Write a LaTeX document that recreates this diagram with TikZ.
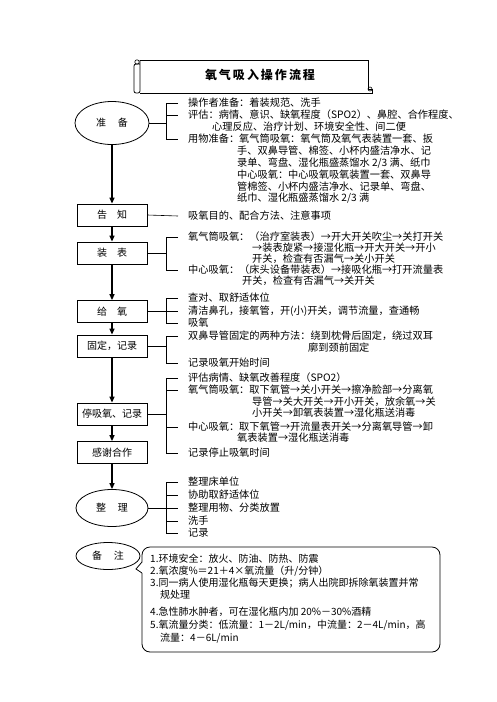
\documentclass[tikz,border=0pt]{standalone}
\usepackage{fontspec}
\setmainfont{Noto Sans CJK SC}
\usetikzlibrary{arrows.meta,shapes.geometric}
\begin{document}
\begin{tikzpicture}[x=1pt,y=-1pt,
  box/.style={draw,line width=0.8pt,minimum width=70pt,minimum height=22pt,inner sep=0pt,font=\fontsize{10}{12}\selectfont},
  oval/.style={draw,ellipse,line width=0.8pt,inner sep=0pt,font=\fontsize{10}{12}\selectfont},
  txt/.style={anchor=west,inner sep=0pt,font=\fontsize{10.2}{12}\selectfont},
  arr/.style={-{Triangle[length=6pt,width=5pt]},line width=1.4pt},
  brk/.style={line width=0.6pt}]
\useasboundingbox (0,0) rectangle (496,702);
\fill[white] (0,0) rectangle (496,702);
\coordinate (sp) at (166,0);
% title scroll
\draw[line width=0.8pt] (140,60) -- (368,60) -- (368,89) -- (372,89) -- (372,93) -- (140,93);
\draw[line width=0.8pt,rounded corners=2pt] (140,64) -- (134,64) -- (134,93) -- (140,93) -- (140,60);
\draw[line width=0.6pt] (137,62) circle (2.2);
\draw[line width=0.6pt] (370,89) circle (2);
\node[font=\bfseries\fontsize{12}{14}\selectfont] (title) at (260,75) {氧\kern2pt 气\kern2pt 吸\kern2pt 入\kern2pt 操\kern2pt 作\kern2pt 流\kern2pt 程};
% main column
\node[oval,minimum width=74pt,minimum height=43pt] (zb) at (112,123) {准\hspace{1.2em}备};
\node[box] (gz) at (112,215) {告\hspace{1em}知};
\node[box] (zbx) at (112,253) {装\hspace{1em}表};
\node[box] (gy) at (112,311.5) {给\hspace{1em}氧};
\node[box] (gd) at (112,346) {固定，记录};
\node[box] (tx) at (112,414) {停吸氧、记录};
\node[box] (gx) at (112,452.5) {感谢合作};
\node[oval,minimum width=72pt,minimum height=37pt] (zl) at (112,508) {整\hspace{1.2em}理};
\node[oval,minimum width=64pt,minimum height=27pt] (bz) at (108,556) {备\hspace{1.2em}注};
\draw[arr] (zb.south) -- (gz.north);
\draw[arr] (gz.south) -- (zbx.north);
\draw[arr] (zbx.south) -- (gy.north);
\draw[arr] (gy.south) -- (gd.north);
\draw[arr] (gd.south) -- (tx.north);
\draw[arr] (tx.south) -- (gx.north);
\draw[arr] (gx.south) -- (zl.north);
% texts: prepare
\node[txt] (p1) at (188,103) {操作者准备：着装规范、洗手};
\node[txt] (p2) at (188,115) {评估：病情、意识、缺氧程度（SPO2）、鼻腔、合作程度、};
\node[txt] (p3) at (212,127) {心理反应、治疗计划、环境安全性、间二便};
\node[txt] (p4) at (188,139) {用物准备：氧气筒吸氧：氧气筒及氧气表装置一套、扳};
\node[txt] (p5) at (237,151) {手、双鼻导管、棉签、小杯内盛洁净水、记};
\node[txt] (p6) at (237,163) {录单、弯盘、湿化瓶盛蒸馏水 2/3 满、纸巾};
\node[txt] (p7) at (237,175) {中心吸氧：中心吸氧吸氧装置一套、双鼻导};
\node[txt] (p8) at (237,187) {管棉签、小杯内盛洁净水、记录单、弯盘、};
\node[txt] (p9) at (237,198) {纸巾、湿化瓶盛蒸馏水 2/3 满};
\draw[brk] (zb.east) -- (zb.east -| sp);
\draw[brk] ([xshift=-10pt]p1.west) -- (p1.west -| sp) -- (p4.west -| sp) -- ([xshift=-10pt]p4.west);
\draw[brk] (p2.west -| sp) -- ([xshift=-10pt]p2.west);
% inform
\node[txt] (t1) at (188,216) {吸氧目的、配合方法、注意事项};
\draw[brk] (gz.east) -- ([xshift=-10pt]t1.west);
% install
\node[txt] (q1) at (188,237) {氧气筒吸氧：（治疗室装表）→开大开关吹尘→关打开关};
\node[txt] (q2) at (252,248) {→装表旋紧→接湿化瓶→开大开关→开小};
\node[txt] (q3) at (252,259) {开关，检查有否漏气→关小开关};
\node[txt] (q4) at (188,270) {中心吸氧：（床头设备带装表）→接吸化瓶→打开流量表};
\node[txt] (q5) at (242,281) {开关，检查有否漏气→关开关};
\draw[brk] (zbx.east) -- (zbx.east -| sp);
\draw[brk] ([xshift=-10pt]q1.west) -- (q1.west -| sp) -- (q4.west -| sp) -- ([xshift=-10pt]q4.west);
% give oxygen
\node[txt] (r1) at (188,298) {查对、取舒适体位};
\node[txt] (r2) at (188,311.5) {清洁鼻孔，接氧管，开(小)开关，调节流量，查通畅};
\node[txt] (r3) at (188,323) {吸氧};
\draw[brk] (gy.east) -- ([xshift=-10pt]r2.west);
\draw[brk] ([xshift=-10pt]r1.west) -- (r1.west -| sp) -- (r3.west -| sp) -- ([xshift=-10pt]r3.west);
% fix, record
\node[txt] (s1) at (188,336) {双鼻导管固定的两种方法：绕到枕骨后固定，绕过双耳};
\node[txt] (s2) at (308,348) {廓到颈前固定};
\node[txt] (s3) at (188,363) {记录吸氧开始时间};
\draw[brk] (gd.east) -- (gd.east -| sp);
\draw[brk] ([xshift=-10pt]s1.west) -- (s1.west -| sp) -- (s3.west -| sp) -- ([xshift=-10pt]s3.west);
% stop
\node[txt] (u1) at (188,378) {评估病情、缺氧改善程度（SPO2）};
\node[txt] (u2) at (188,390) {氧气筒吸氧：取下氧管→关小开关→擦净脸部→分离氧};
\node[txt] (u3) at (252,402) {导管→关大开关→开小开关，放余氧→关};
\node[txt] (u4) at (252,413) {小开关→卸氧表装置→湿化瓶送消毒};
\node[txt] (u5) at (188,427) {中心吸氧：取下氧管→开流量表开关→分离氧导管→卸};
\node[txt] (u6) at (237,438) {氧表装置→湿化瓶送消毒};
\node[txt] (u7) at (188,453) {记录停止吸氧时间};
\draw[brk] (tx.east) -- (tx.east -| sp);
\draw[brk] ([xshift=-10pt]u1.west) -- (u1.west -| sp) -- (u7.west -| sp) -- ([xshift=-10pt]u7.west);
\draw[brk] (u2.west -| sp) -- ([xshift=-10pt]u2.west);
\draw[brk] (u5.west -| sp) -- ([xshift=-10pt]u5.west);
% tidy
\node[txt] (v1) at (188,482) {整理床单位};
\node[txt] (v2) at (188,495) {协助取舒适体位};
\node[txt] (v3) at (188,508) {整理用物、分类放置};
\node[txt] (v4) at (188,521) {洗手};
\node[txt] (v5) at (188,533) {记录};
\draw[brk] (zl.east) -- ([xshift=-10pt]v3.west);
\draw[brk] ([xshift=-10pt]v1.west) -- (v1.west -| sp) -- (v5.west -| sp) -- ([xshift=-10pt]v5.west);
\draw[brk] (v2.west -| sp) -- ([xshift=-10pt]v2.west);
\draw[brk] (v4.west -| sp) -- ([xshift=-10pt]v4.west);
% notes callout
\draw[line width=0.8pt,rounded corners=8pt] (142,573) -- (142,652) -- (440,652) -- (440,547) -- (142,547) -- (142,562);
\draw[line width=0.8pt] (142,562) -- (136,569) -- (142,573);
\node[txt,font=\fontsize{10}{12}\selectfont] (w1) at (150,559) {1.环境安全：放火、防油、防热、防震};
\node[txt,font=\fontsize{10}{12}\selectfont] (w2) at (150,571) {2.氧浓度\%＝21＋4×氧流量（升/分钟）};
\node[txt,font=\fontsize{10}{12}\selectfont] (w3) at (150,583) {3.同一病人使用湿化瓶每天更换；病人出院即拆除氧装置并常};
\node[txt,font=\fontsize{10}{12}\selectfont] (w4) at (160,595) {规处理};
\node[txt,font=\fontsize{10}{12}\selectfont] (w5) at (150,612) {4.急性肺水肿者，可在湿化瓶内加 20\%－30\%酒精};
\node[txt,font=\fontsize{10}{12}\selectfont] (w6) at (150,625) {5.氧流量分类：低流量：1－2L/min，中流量：2－4L/min，高};
\node[txt,font=\fontsize{10}{12}\selectfont] (w7) at (160,638) {流量：4－6L/min};
\end{tikzpicture}
\end{document}
